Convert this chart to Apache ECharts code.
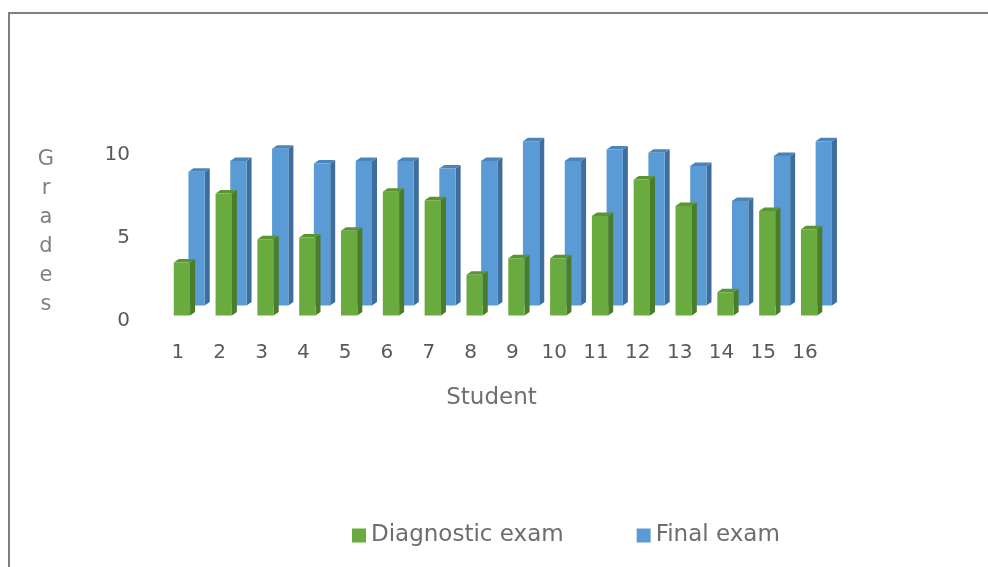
<!DOCTYPE html>
<html>
<head>
<meta charset="utf-8">
<script src="https://cdn.jsdelivr.net/npm/echarts@6/dist/echarts.min.js"></script>
<style>
html,body{margin:0;padding:0;background:#fff;}
#chart{width:988px;height:567px;}
</style>
</head>
<body>
<div id="chart"></div>
<script>
const students = ['1','2','3','4','5','6','7','8','9','10','11','12','13','14','15','16'];
const diagnosticExam = [3.2, 7.35, 4.6, 4.7, 5.1, 7.45, 6.95, 2.45, 3.45, 3.45, 6.0, 8.2, 6.6, 1.4, 6.3, 5.2];
const finalExam = [8.05, 8.7, 9.45, 8.55, 8.7, 8.7, 8.25, 8.7, 9.9, 8.7, 9.4, 9.2, 8.4, 6.3, 9.0, 9.9];
const yTicks = [0, 5, 10];

const FONT = 'DejaVu Sans';

function render3D(offFrac, lift, front, side, topc) {
  return function (params, api) {
    const i = api.value(0);
    const v = api.value(1);
    const base = api.coord([i, 0]);
    const top = api.coord([i, v]);
    const band = api.size([1, 0])[0];
    const w = band * 0.39;
    const dx = 5;
    const dy = 3.5;
    const cx = base[0] + band * offFrac;
    const x0 = cx - w / 2, x1 = cx + w / 2;
    const yb = base[1] - lift, yt = top[1] - lift;
    return {
      type: 'group',
      children: [
        { type: 'polygon', shape: { points: [[x1, yb], [x1 + dx, yb - dy], [x1 + dx, yt - dy], [x1, yt]] }, style: { fill: side } },
        { type: 'polygon', shape: { points: [[x0, yt], [x1, yt], [x1 + dx, yt - dy], [x0 + dx, yt - dy]] }, style: { fill: topc } },
        { type: 'rect', shape: { x: x0, y: yt, width: w, height: yb - yt }, style: { fill: front } }
      ]
    };
  };
}

const chart = echarts.init(document.getElementById('chart'), null, { renderer: 'canvas' });
chart.setOption({
  animation: false,
  backgroundColor: '#ffffff',
  textStyle: { fontFamily: FONT },
  grid: { left: 157, right: 162, top: 155, bottom: 246, containLabel: false },
  xAxis: {
    type: 'category',
    data: students,
    boundaryGap: true,
    axisLine: { show: false },
    axisTick: { show: false },
    axisLabel: { color: '#595959', fontSize: 20, fontFamily: FONT, margin: 22, interval: 0 },
    name: 'Student',
    nameLocation: 'middle',
    nameGap: 66,
    nameTextStyle: { color: '#6f6f6f', fontSize: 23, fontFamily: FONT }
  },
  yAxis: {
    type: 'value',
    min: yTicks[0],
    max: yTicks[yTicks.length - 1],
    interval: 5,
    axisLine: { show: false },
    axisTick: { show: false },
    splitLine: { show: false },
    axisLabel: { color: '#595959', fontSize: 20, fontFamily: FONT, margin: 27 }
  },
  legend: {
    left: 347,
    top: 519,
    icon: 'rect',
    itemWidth: 14,
    itemHeight: 14,
    itemGap: 73,
    textStyle: { color: '#6d6d6d', fontSize: 23, fontFamily: FONT },
    data: ['Diagnostic exam', 'Final exam']
  },
  graphic: [
    { type: 'rect', shape: { x: 9, y: 13, width: 990, height: 570 }, style: { fill: 'none', stroke: '#7f7f7f', lineWidth: 2 }, silent: true },
    { type: 'text', x: 46, y: 145, style: { text: 'G\nr\na\nd\ne\ns', fill: '#7f7f7f', font: '21px "DejaVu Sans"', textAlign: 'center', textVerticalAlign: 'top', lineHeight: 29 } }
  ],
  series: [
    {
      name: 'Final exam',
      type: 'custom',
      itemStyle: { color: '#5B9BD5' },
      renderItem: render3D(0.447, 15.5, '#5B9BD5', '#3E6E9E', '#4A84BA'),
      encode: { x: 0, y: 1 },
      data: finalExam.map((v, i) => [i, v])
    },
    {
      name: 'Diagnostic exam',
      type: 'custom',
      itemStyle: { color: '#6AAB3F' },
      renderItem: render3D(0.096, 5.5, '#6AAB3F', '#4A7C2A', '#5A9436'),
      encode: { x: 0, y: 1 },
      data: diagnosticExam.map((v, i) => [i, v])
    }
  ]
});
</script>
</body>
</html>
